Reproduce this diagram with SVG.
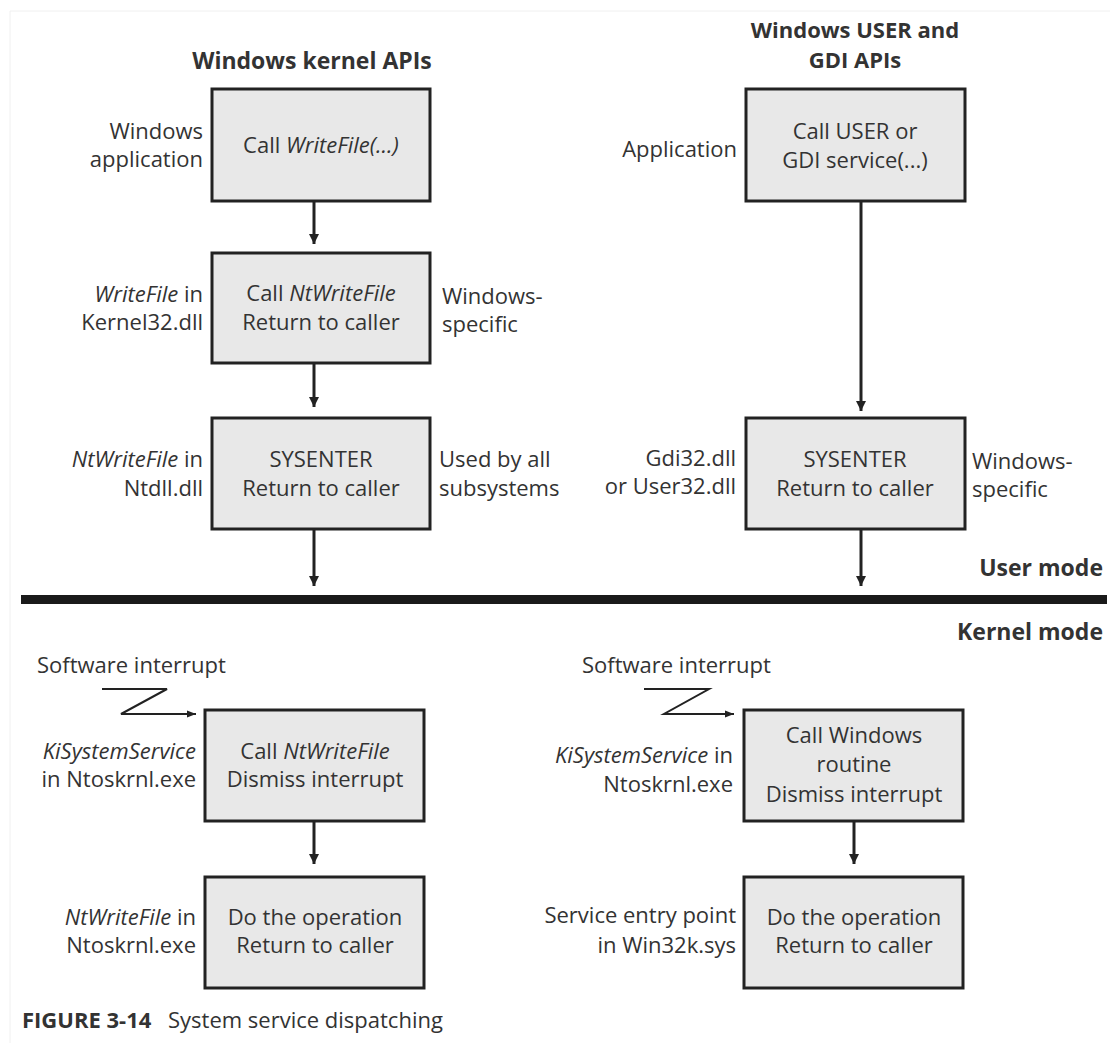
<svg xmlns="http://www.w3.org/2000/svg" width="1110" height="1043" viewBox="0 0 1110 1043">
<defs>
<marker id="ah" markerUnits="userSpaceOnUse" viewBox="0 0 10 10" refX="10" refY="5" markerWidth="10" markerHeight="10" orient="auto">
<path d="M0,0 L10,5 L0,10 z" fill="#222"/>
</marker>
<marker id="ahs" markerUnits="userSpaceOnUse" viewBox="0 0 10 10" refX="10" refY="5" markerWidth="9" markerHeight="9" orient="auto">
<path d="M0,1 L10,5 L0,9 z" fill="#222"/>
</marker>
</defs>
<style>
text{font-family:"Open Sans","Noto Sans","Liberation Sans",sans-serif;font-size:22px;fill:#333;}
.t{font-weight:bold;font-size:23px;}
.t2{font-weight:bold;font-size:22px;}
.m{text-anchor:middle;}
.e{text-anchor:end;}
.i{font-style:italic;}
.box{fill:#e8e8e8;stroke:#222;stroke-width:3;}
.conn{stroke:#222;stroke-width:3;fill:none;}
.z{stroke:#222;stroke-width:2;fill:none;}
</style>
<rect width="1110" height="1043" fill="#fff"/>
<path d="M10,1043 L10,11 L1110,11" fill="none" stroke="#f0f0f0" stroke-width="1"/>

<text class="t m" x="312" y="69">Windows kernel APIs</text>
<text class="t2 m" x="855" y="38">Windows USER and</text>
<text class="t2 m" x="855" y="68">GDI APIs</text>

<g id="connectors">
<line class="conn" x1="314" y1="201" x2="314" y2="244" marker-end="url(#ah)"/>
<line class="conn" x1="314" y1="363" x2="314" y2="407" marker-end="url(#ah)"/>
<line class="conn" x1="314" y1="529" x2="314" y2="586" marker-end="url(#ah)"/>
<line class="conn" x1="861" y1="201" x2="861" y2="411" marker-end="url(#ah)"/>
<line class="conn" x1="861" y1="529" x2="861" y2="586" marker-end="url(#ah)"/>
<line class="conn" x1="314" y1="821" x2="314" y2="864" marker-end="url(#ah)"/>
<line class="conn" x1="854" y1="821" x2="854" y2="864" marker-end="url(#ah)"/>
<path class="z" d="M102,689 L167,689 L121,714 L196,714" marker-end="url(#ahs)"/>
<path class="z" d="M644,689 L709,689 L664,714 L734,714" marker-end="url(#ahs)"/>
</g>

<rect x="21" y="595" width="1086" height="9" fill="#1a1a1a"/>
<text class="t e" x="1103" y="576">User mode</text>
<text class="t e" x="1103" y="640">Kernel mode</text>

<g id="n1">
<rect class="box" x="212" y="89" width="218" height="112"/>
<text class="m" x="321" y="153">Call <tspan class="i">WriteFile(...)</tspan></text>
<text class="e" x="203" y="139">Windows</text>
<text class="e" x="203" y="167">application</text>
</g>

<g id="n2">
<rect class="box" x="212" y="253" width="218" height="110"/>
<text class="m" x="321" y="301">Call <tspan class="i">NtWriteFile</tspan></text>
<text class="m" x="321" y="330">Return to caller</text>
<text class="e" x="203" y="302"><tspan class="i">WriteFile</tspan> in</text>
<text class="e" x="203" y="330">Kernel32.dll</text>
<text x="442" y="304">Windows-</text>
<text x="442" y="332">specific</text>
</g>

<g id="n3">
<rect class="box" x="212" y="418" width="218" height="111"/>
<text class="m" x="321" y="467">SYSENTER</text>
<text class="m" x="321" y="496">Return to caller</text>
<text class="e" x="203" y="467"><tspan class="i">NtWriteFile</tspan> in</text>
<text class="e" x="203" y="496">Ntdll.dll</text>
<text x="439" y="467">Used by all</text>
<text x="439" y="496">subsystems</text>
</g>

<g id="n4">
<rect class="box" x="746" y="89" width="219" height="112"/>
<text class="m" x="855" y="139">Call USER or</text>
<text class="m" x="855" y="168">GDI service(...)</text>
<text class="e" x="737" y="157">Application</text>
</g>

<g id="n5">
<rect class="box" x="746" y="418" width="219" height="111"/>
<text class="m" x="855" y="467">SYSENTER</text>
<text class="m" x="855" y="496">Return to caller</text>
<text class="e" x="736" y="466">Gdi32.dll</text>
<text class="e" x="736" y="494">or User32.dll</text>
<text x="972" y="469">Windows-</text>
<text x="972" y="497">specific</text>
</g>

<g id="n6">
<text x="37" y="673">Software interrupt</text>
<rect class="box" x="205" y="710" width="219" height="111"/>
<text class="m" x="315" y="759">Call <tspan class="i">NtWriteFile</tspan></text>
<text class="m" x="315" y="787">Dismiss interrupt</text>
<text class="e" x="196" y="759" font-style="italic">KiSystemService</text>
<text class="e" x="196" y="787">in Ntoskrnl.exe</text>
</g>

<g id="n7">
<rect class="box" x="205" y="877" width="219" height="111"/>
<text class="m" x="315" y="925">Do the operation</text>
<text class="m" x="315" y="953">Return to caller</text>
<text class="e" x="196" y="925"><tspan class="i">NtWriteFile</tspan> in</text>
<text class="e" x="196" y="953">Ntoskrnl.exe</text>
</g>

<g id="n8">
<text x="582" y="673">Software interrupt</text>
<rect class="box" x="744" y="710" width="219" height="111"/>
<text class="m" x="854" y="743">Call Windows</text>
<text class="m" x="854" y="772">routine</text>
<text class="m" x="854" y="802">Dismiss interrupt</text>
<text class="e" x="733" y="763"><tspan class="i">KiSystemService</tspan> in</text>
<text class="e" x="733" y="792">Ntoskrnl.exe</text>
</g>

<g id="n9">
<rect class="box" x="744" y="877" width="219" height="111"/>
<text class="m" x="854" y="925">Do the operation</text>
<text class="m" x="854" y="953">Return to caller</text>
<text class="e" x="736" y="923">Service entry point</text>
<text class="e" x="736" y="953">in Win32k.sys</text>
</g>

<text x="22" y="1028"><tspan font-weight="bold">FIGURE 3-14</tspan><tspan x="168">System service dispatching</tspan></text>
</svg>
